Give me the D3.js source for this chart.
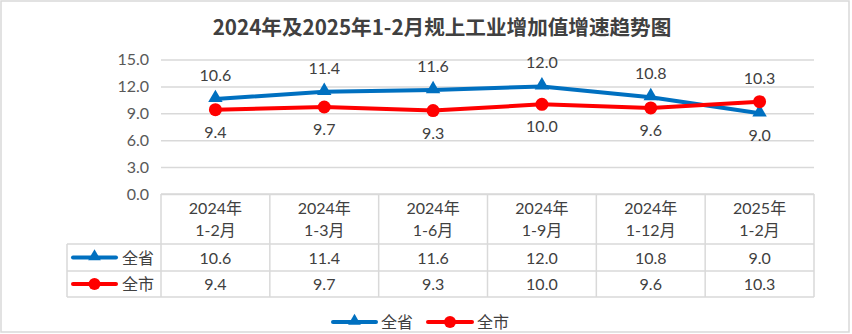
<!DOCTYPE html>
<html><head><meta charset="utf-8">
<script src="https://cdn.jsdelivr.net/npm/d3@7"></script>
<style>
html,body{margin:0;padding:0;background:#fff;}
svg{display:block;}
text{font-family:"Lato","Noto Sans CJK SC",sans-serif;}
</style></head>
<body>
<svg id="chart" width="852" height="334"></svg>
<script>
const title = "2024年及2025年1-2月规上工业增加值增速趋势图";
const categoryYears = ["2024年","2024年","2024年","2024年","2024年","2025年"];
const categoryPeriods = ["1-2月","1-3月","1-6月","1-9月","1-12月","1-2月"];
const provinceName = "全省";
const provinceValues = [10.6, 11.4, 11.6, 12.0, 10.8, 9.0];
const cityName = "全市";
const cityValues = [9.4, 9.7, 9.3, 10.0, 9.6, 10.3];
const yTicks = [0, 3, 6, 9, 12, 15];

const svg = d3.select("#chart");
const textColor = "#404040", axisColor = "#595959", gridColor = "#d9d9d9";
const blue = "#0070C0", red = "#FF0000";

// outer frame
svg.append("rect").attr("x", 1).attr("y", 1).attr("width", 848).attr("height", 331)
  .attr("fill", "#fff").attr("stroke", gridColor).attr("stroke-width", 1.5);

// title
svg.append("text").attr("x", 442).attr("y", 35).attr("text-anchor", "middle")
  .style("font-family", '"Noto Sans CJK SC",sans-serif')
  .attr("font-size", 20.6).attr("font-weight", "bold").attr("fill", textColor)
  .text(title);

const plotL = 161, plotR = 814, plotT = 59.5, plotB = 194;
const idx = d3.range(categoryYears.length);
const x = d3.scaleBand().domain(idx).range([plotL, plotR]);
const cx = i => x(i) + x.bandwidth() / 2;
const y = d3.scaleLinear().domain([0, 15]).range([plotB, plotT]);

// gridlines + y axis labels
const yAxis = d3.axisLeft(y).tickValues(yTicks).tickFormat(d3.format(".1f"))
  .tickSize(-(plotR - plotL)).tickPadding(12);
const gy = svg.append("g").attr("transform", `translate(${plotL},0)`).call(yAxis);
gy.select(".domain").remove();
gy.selectAll(".tick line").attr("stroke", gridColor).attr("stroke-width", 1.5);
gy.selectAll(".tick text").attr("fill", axisColor).attr("font-size", 16)
  .style("font-family", '"Lato",sans-serif');

// table
const rowTop = plotB, hdrB = 244, r1B = 271, r2B = 297, tableL = 67;
const tg = svg.append("g").attr("stroke", gridColor).attr("stroke-width", 1.5);
tg.append("line").attr("x1", plotL).attr("x2", plotR).attr("y1", rowTop).attr("y2", rowTop);
[hdrB, r1B, r2B].forEach(yy => tg.append("line").attr("x1", tableL).attr("x2", plotR).attr("y1", yy).attr("y2", yy));
tg.append("line").attr("x1", tableL).attr("x2", tableL).attr("y1", hdrB).attr("y2", r2B);
idx.concat([idx.length]).forEach(i => {
  const xx = i < idx.length ? x(i) : plotR;
  tg.append("line").attr("x1", xx).attr("x2", xx).attr("y1", rowTop).attr("y2", r2B);
});

const tt = svg.append("g").attr("fill", textColor).attr("font-size", 16).attr("text-anchor", "middle");
idx.forEach(i => {
  tt.append("text").attr("x", cx(i)).attr("y", 214).text(categoryYears[i]);
  tt.append("text").attr("x", cx(i)).attr("y", 236).text(categoryPeriods[i]);
  tt.append("text").attr("x", cx(i)).attr("y", 263.5).text(provinceValues[i].toFixed(1));
  tt.append("text").attr("x", cx(i)).attr("y", 290).text(cityValues[i].toFixed(1));
});

function key(g, x0, x1, yy, color, shape) {
  g.append("line").attr("x1", x0).attr("x2", x1).attr("y1", yy).attr("y2", yy)
    .attr("stroke", color).attr("stroke-width", 4).attr("stroke-linecap", "round");
  const mx = (x0 + x1) / 2;
  if (shape === "tri") {
    g.append("path").attr("d", d3.symbol().type(d3.symbolTriangle).size(70)())
      .attr("transform", `translate(${mx},${yy - 1})`).attr("fill", color);
  } else {
    g.append("circle").attr("cx", mx).attr("cy", yy).attr("r", 6).attr("fill", color);
  }
}
const lg = svg.append("g");
key(lg, 73, 116, 257.5, blue, "tri");
lg.append("text").attr("x", 122).attr("y", 263.5).attr("font-size", 16).attr("fill", textColor).text(provinceName);
key(lg, 73, 116, 284, red, "circle");
lg.append("text").attr("x", 122).attr("y", 290).attr("font-size", 16).attr("fill", textColor).text(cityName);

key(lg, 333, 376, 322, blue, "tri");
lg.append("text").attr("x", 381).attr("y", 328).attr("font-size", 16).attr("fill", textColor).text(provinceName);
key(lg, 428, 472, 322, red, "circle");
lg.append("text").attr("x", 477).attr("y", 328).attr("font-size", 16).attr("fill", textColor).text(cityName);

const line = d3.line().x((d, i) => cx(i)).y(d => y(d));
svg.append("path").datum(provinceValues).attr("d", line).attr("fill", "none")
  .attr("stroke", blue).attr("stroke-width", 4).attr("stroke-linejoin", "round");
svg.append("path").datum(cityValues).attr("d", line).attr("fill", "none")
  .attr("stroke", red).attr("stroke-width", 4).attr("stroke-linejoin", "round");

svg.append("g").selectAll("path").data(provinceValues).join("path")
  .attr("d", d3.symbol().type(d3.symbolTriangle).size(90)())
  .attr("transform", (d, i) => `translate(${cx(i)},${y(d) - 1})`).attr("fill", blue);
svg.append("g").selectAll("circle").data(cityValues).join("circle")
  .attr("cx", (d, i) => cx(i)).attr("cy", d => y(d)).attr("r", 6.5).attr("fill", red);

const labels = svg.append("g").attr("fill", textColor).attr("font-size", 16).attr("text-anchor", "middle");
idx.forEach(i => {
  const p = provinceValues[i], c = cityValues[i];
  const pAbove = p >= c;
  labels.append("text").attr("x", cx(i)).attr("y", y(p) + (pAbove ? -18 : 28)).text(p.toFixed(1));
  labels.append("text").attr("x", cx(i)).attr("y", y(c) + (pAbove ? 28 : -18)).text(c.toFixed(1));
});
</script>
</body></html>
